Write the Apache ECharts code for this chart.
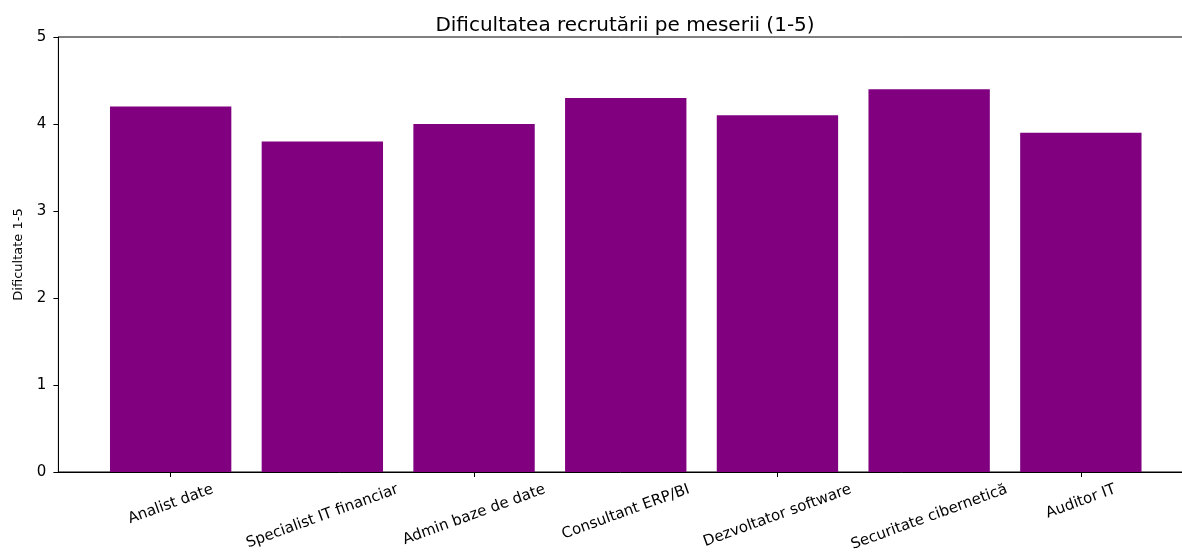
<!DOCTYPE html>
<html>
<head>
<meta charset="utf-8">
<title>Dificultatea recrutării pe meserii</title>
<script src="https://cdn.jsdelivr.net/npm/echarts@6/dist/echarts.min.js"></script>
<style>
  html, body { margin: 0; padding: 0; background: #fff; }
  #chart { width: 1182px; height: 560px; }
</style>
</head>
<body>
<div id="chart"></div>
<script>
// date
const meserii = ['Analist date', 'Specialist IT financiar', 'Admin baze de date', 'Consultant ERP/BI',
  'Dezvoltator software', 'Securitate cibernetică', 'Auditor IT'];
const dificultate = [4.2, 3.8, 4.0, 4.3, 4.1, 4.4, 3.9];
const yTicks = [0, 1, 2, 3, 4, 5];

const FONT = 'DejaVu Sans';
const LABEL_SIZE = 15;
const ROT = 20;

// etichetele rotite sunt centrate sub bara (ca in matplotlib):
// echarts le aliniaza la dreapta, deci mutam axa cu etichete si corectam fiecare eticheta
const ctx = document.createElement('canvas').getContext('2d');
ctx.font = LABEL_SIZE + 'px "' + FONT + '"';
const rad = ROT * Math.PI / 180;
const halfW = meserii.map(name => ctx.measureText(name).width * Math.cos(rad) / 2);
const shift = Math.max(...halfW);
const labelRich = {};
meserii.forEach((name, i) => {
  const d = shift - halfW[i];
  const s = 2 * d * Math.sin(rad);
  labelRich['t' + i] = { padding: [0, d * Math.cos(rad), 0, 0] };
  labelRich['b' + i] = { height: s, lineHeight: s, fontSize: 1 };
});

const chart = echarts.init(document.getElementById('chart'));

const gridBase = { top: 37, bottom: 88, outerBoundsMode: 'none', containLabel: false };

chart.setOption({
  animation: false,
  textStyle: { fontFamily: FONT, color: '#000' },
  title: {
    text: 'Dificultatea recrutării pe meserii (1-5)',
    left: 620,
    textAlign: 'center',
    top: 11,
    textStyle: { fontFamily: FONT, fontSize: 20, fontWeight: 'normal', color: '#000' }
  },
  grid: [
    // barele
    Object.assign({ left: 94.8, right: 25.3 }, gridBase),
    // cadrul axelor
    Object.assign({ left: 58.4, right: -11, show: true, borderColor: '#000', borderWidth: 1,
      backgroundColor: 'transparent' }, gridBase),
    // etichetele categoriilor
    Object.assign({ left: 94.8 + shift, right: 25.3 - shift }, gridBase)
  ],
  xAxis: [
    {
      gridIndex: 0,
      type: 'category',
      data: meserii,
      boundaryGap: true,
      axisLine: { show: false },
      axisTick: { show: true, alignWithLabel: true, length: 5, lineStyle: { color: '#000' } },
      axisLabel: { show: false },
      splitLine: { show: false }
    },
    {
      gridIndex: 1,
      type: 'value',
      min: 0,
      max: 1,
      axisLine: { show: true, lineStyle: { color: '#000', width: 1 } },
      axisTick: { show: false },
      axisLabel: { show: false },
      splitLine: { show: false }
    },
    {
      gridIndex: 2,
      type: 'category',
      data: meserii,
      boundaryGap: true,
      axisLine: { show: false },
      axisTick: { show: false },
      axisLabel: {
        interval: 0,
        rotate: ROT,
        margin: 17,
        fontSize: LABEL_SIZE,
        fontFamily: FONT,
        color: '#000',
        hideOverlap: false,
        formatter: (value, i) => '{t' + i + '|' + value + '}\n{b' + i + '| }',
        rich: labelRich
      },
      splitLine: { show: false }
    }
  ],
  yAxis: [
    { gridIndex: 0, type: 'value', min: 0, max: 5, show: false, splitLine: { show: false } },
    {
      gridIndex: 1,
      type: 'value',
      min: yTicks[0],
      max: yTicks[yTicks.length - 1],
      interval: 1,
      name: 'Dificultate 1-5',
      nameLocation: 'middle',
      nameGap: 33,
      nameTextStyle: { fontFamily: FONT, fontSize: 13, color: '#000' },
      axisLine: { show: true, lineStyle: { color: '#000', width: 1 } },
      axisTick: { show: true, length: 5, lineStyle: { color: '#000' } },
      axisLabel: { fontSize: LABEL_SIZE, fontFamily: FONT, color: '#000', margin: 12 },
      splitLine: { show: false }
    },
    { gridIndex: 2, type: 'value', min: 0, max: 5, show: false, splitLine: { show: false } }
  ],
  series: [
    {
      type: 'bar',
      xAxisIndex: 0,
      yAxisIndex: 0,
      data: dificultate,
      barCategoryGap: '20%',
      itemStyle: { color: '#800080' }
    }
  ]
});
</script>
</body>
</html>
